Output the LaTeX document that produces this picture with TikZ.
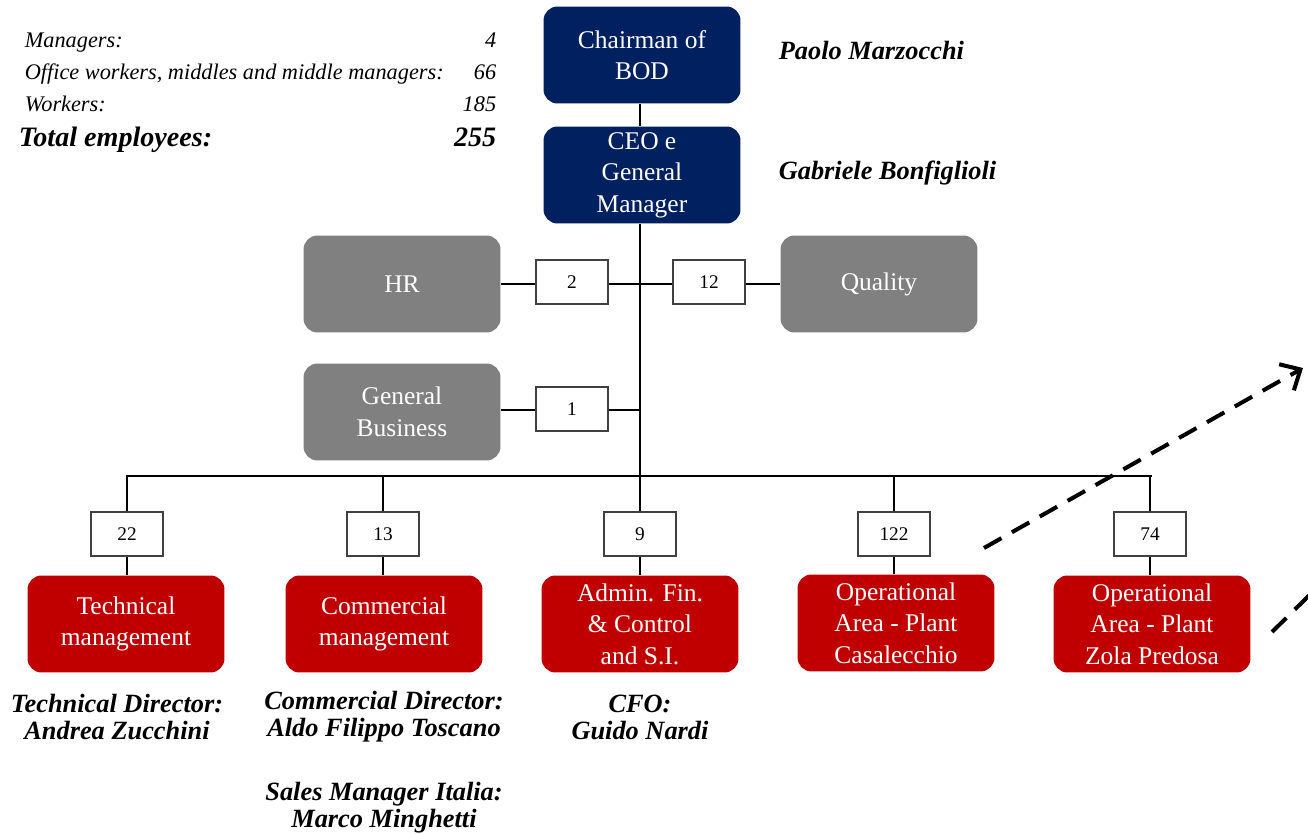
\documentclass[tikz,border=0pt]{standalone}
\usepackage{fontspec}
\setmainfont{Liberation Serif}
\usepackage{xcolor}
\usetikzlibrary{arrows.meta,calc}
\definecolor{boardblue}{HTML}{002060}
\definecolor{staffgrey}{HTML}{808080}
\definecolor{deptred}{HTML}{C00000}
\tikzstyle{unit}=[rounded corners=0.28cm, minimum width=3.94cm, minimum height=1.94cm, inner sep=0pt, align=center, text=white, font=\fontsize{14.5}{18}\selectfont]
\tikzstyle{board}=[unit, fill=boardblue]
\tikzstyle{staff}=[unit, fill=staffgrey]
\tikzstyle{dept}=[unit, fill=deptred]
\tikzstyle{headcount}=[draw=black!75, fill=white, minimum width=1.44cm, minimum height=0.88cm, inner sep=0pt, font=\fontsize{11}{13}\selectfont]
\tikzstyle{person}=[align=center, inner sep=0pt, font=\fontsize{15}{15.3}\selectfont\bfseries\itshape]
\tikzstyle{tally}=[inner sep=0pt, font=\fontsize{12.7}{15}\selectfont\itshape]
\tikzstyle{trend}=[line width=2.3pt, dash pattern=on 0.4cm off 0.24cm, -{Straight Barb[length=0.32cm,width=0.6cm,line width=2.3pt]}]

\begin{document}
\begin{tikzpicture}[x=0.02cm, y=-0.02cm, line width=0.9pt]
 \useasboundingbox (0,0) rectangle (1308,834);
 \clip (0,0) rectangle (1308,834);
% top of the chart
 \node[board] (chair) at (642,55) {Chairman of\\BOD};
 \node[board] (ceo) at (642,175) {CEO e\\General\\Manager};
 \node[person, anchor=west] (chairname) at (778,50) {Paolo Marzocchi};
 \node[person, anchor=west] (ceoname) at (778,173) {Gabriele Bonfiglioli};
%
 \node[staff] (hr) at (402,284) {HR};
 \node[staff] (quality) at (879,284) {Quality};
 \node[staff] (gb) at (402,412) {General\\Business};
 \node[headcount] (n2) at (572,282) {2};
 \node[headcount] (n12) at (709,282) {12};
 \node[headcount] (n1) at (572,409) {1};
%
 \coordinate (bus) at (640,476);
 \coordinate (gbjoin) at (640,410);
 \draw (chair.south -| bus) -- (ceo.north -| bus);
 \draw (ceo.south -| bus) -- (bus);
 \draw (hr.east |- 0,284) -- (n2.west |- 0,284);
 \draw (n2.east |- 0,284) -- (n12.west |- 0,284);
 \draw (n12.east |- 0,284) -- (quality.west |- 0,284);
 \draw (gb.east |- gbjoin) -- (n1.west |- gbjoin);
 \draw (n1.east |- gbjoin) -- (gbjoin);
% departments
 \node[dept] (tech) at (126,624) {Technical\\management};
 \node[dept] (comm) at (384,624) {Commercial\\management};
 \node[dept] (afc) at (640,624) {Admin. Fin.\\\& Control\\and S.I.};
 \node[dept] (casa) at (896,623) {Operational\\Area - Plant\\Casalecchio};
 \node[dept] (zola) at (1152,624) {Operational\\Area - Plant\\Zola Predosa};
 \node[headcount] (n22) at (127,534) {22};
 \node[headcount] (n13) at (383,534) {13};
 \node[headcount] (n9) at (640,534) {9};
 \node[headcount] (n122) at (894,534) {122};
 \node[headcount] (n74) at (1150,534) {74};
%
 \coordinate (buswest) at (126,476);
 \coordinate (buseast) at (1152,476);
 \draw (buswest) -- (buseast);
 \foreach \n/\d in {n22/tech, n13/comm, n9/afc, n122/casa, n74/zola}{
  \draw (\n.north |- bus) -- (\n.north);
  \draw (\n.south) -- (\n.south |- \d.north);
 }
% names under the departments
 \node[person] (techname) at (117,717) {Technical Director:\\Andrea Zucchini};
 \node[person] (commname) at (384,717) {Commercial Director:\\Aldo Filippo Toscano};
 \node[person] (cfoname) at (640,717) {CFO:\\Guido Nardi};
 \node[person] (salesname) at (384,808) {Sales Manager Italia:\\Marco Minghetti};
% headcount table
 \node[tally, anchor=base west] (mgrlbl) at (24,48) {Managers:};
 \node[tally, anchor=base east] (mgrnum) at (497,48) {4};
 \node[tally, anchor=base west] (offlbl) at (24,80) {Office workers, middles and middle managers:};
 \node[tally, anchor=base east] (offnum) at (497,80) {66};
 \node[tally, anchor=base west] (wrklbl) at (24,112) {Workers:};
 \node[tally, anchor=base east] (wrknum) at (497,112) {185};
 \node[tally, font=\fontsize{16}{16}\selectfont\bfseries\itshape, anchor=base west] (totlbl) at (18,147) {Total employees:};
 \node[tally, font=\fontsize{16}{16}\selectfont\bfseries\itshape, anchor=base east] (totnum) at (497,147) {255};
% dashed pointers
 \coordinate (trendAstart) at (984,548);
 \coordinate (trendAend) at (1303,368);
 \coordinate (trendBstart) at (1272,632);
 \coordinate (trendBend) at (1345,560);
 \draw[trend] (trendAstart) -- (trendAend);
 \draw[trend] (trendBstart) -- (trendBend);
\end{tikzpicture}
\end{document}
